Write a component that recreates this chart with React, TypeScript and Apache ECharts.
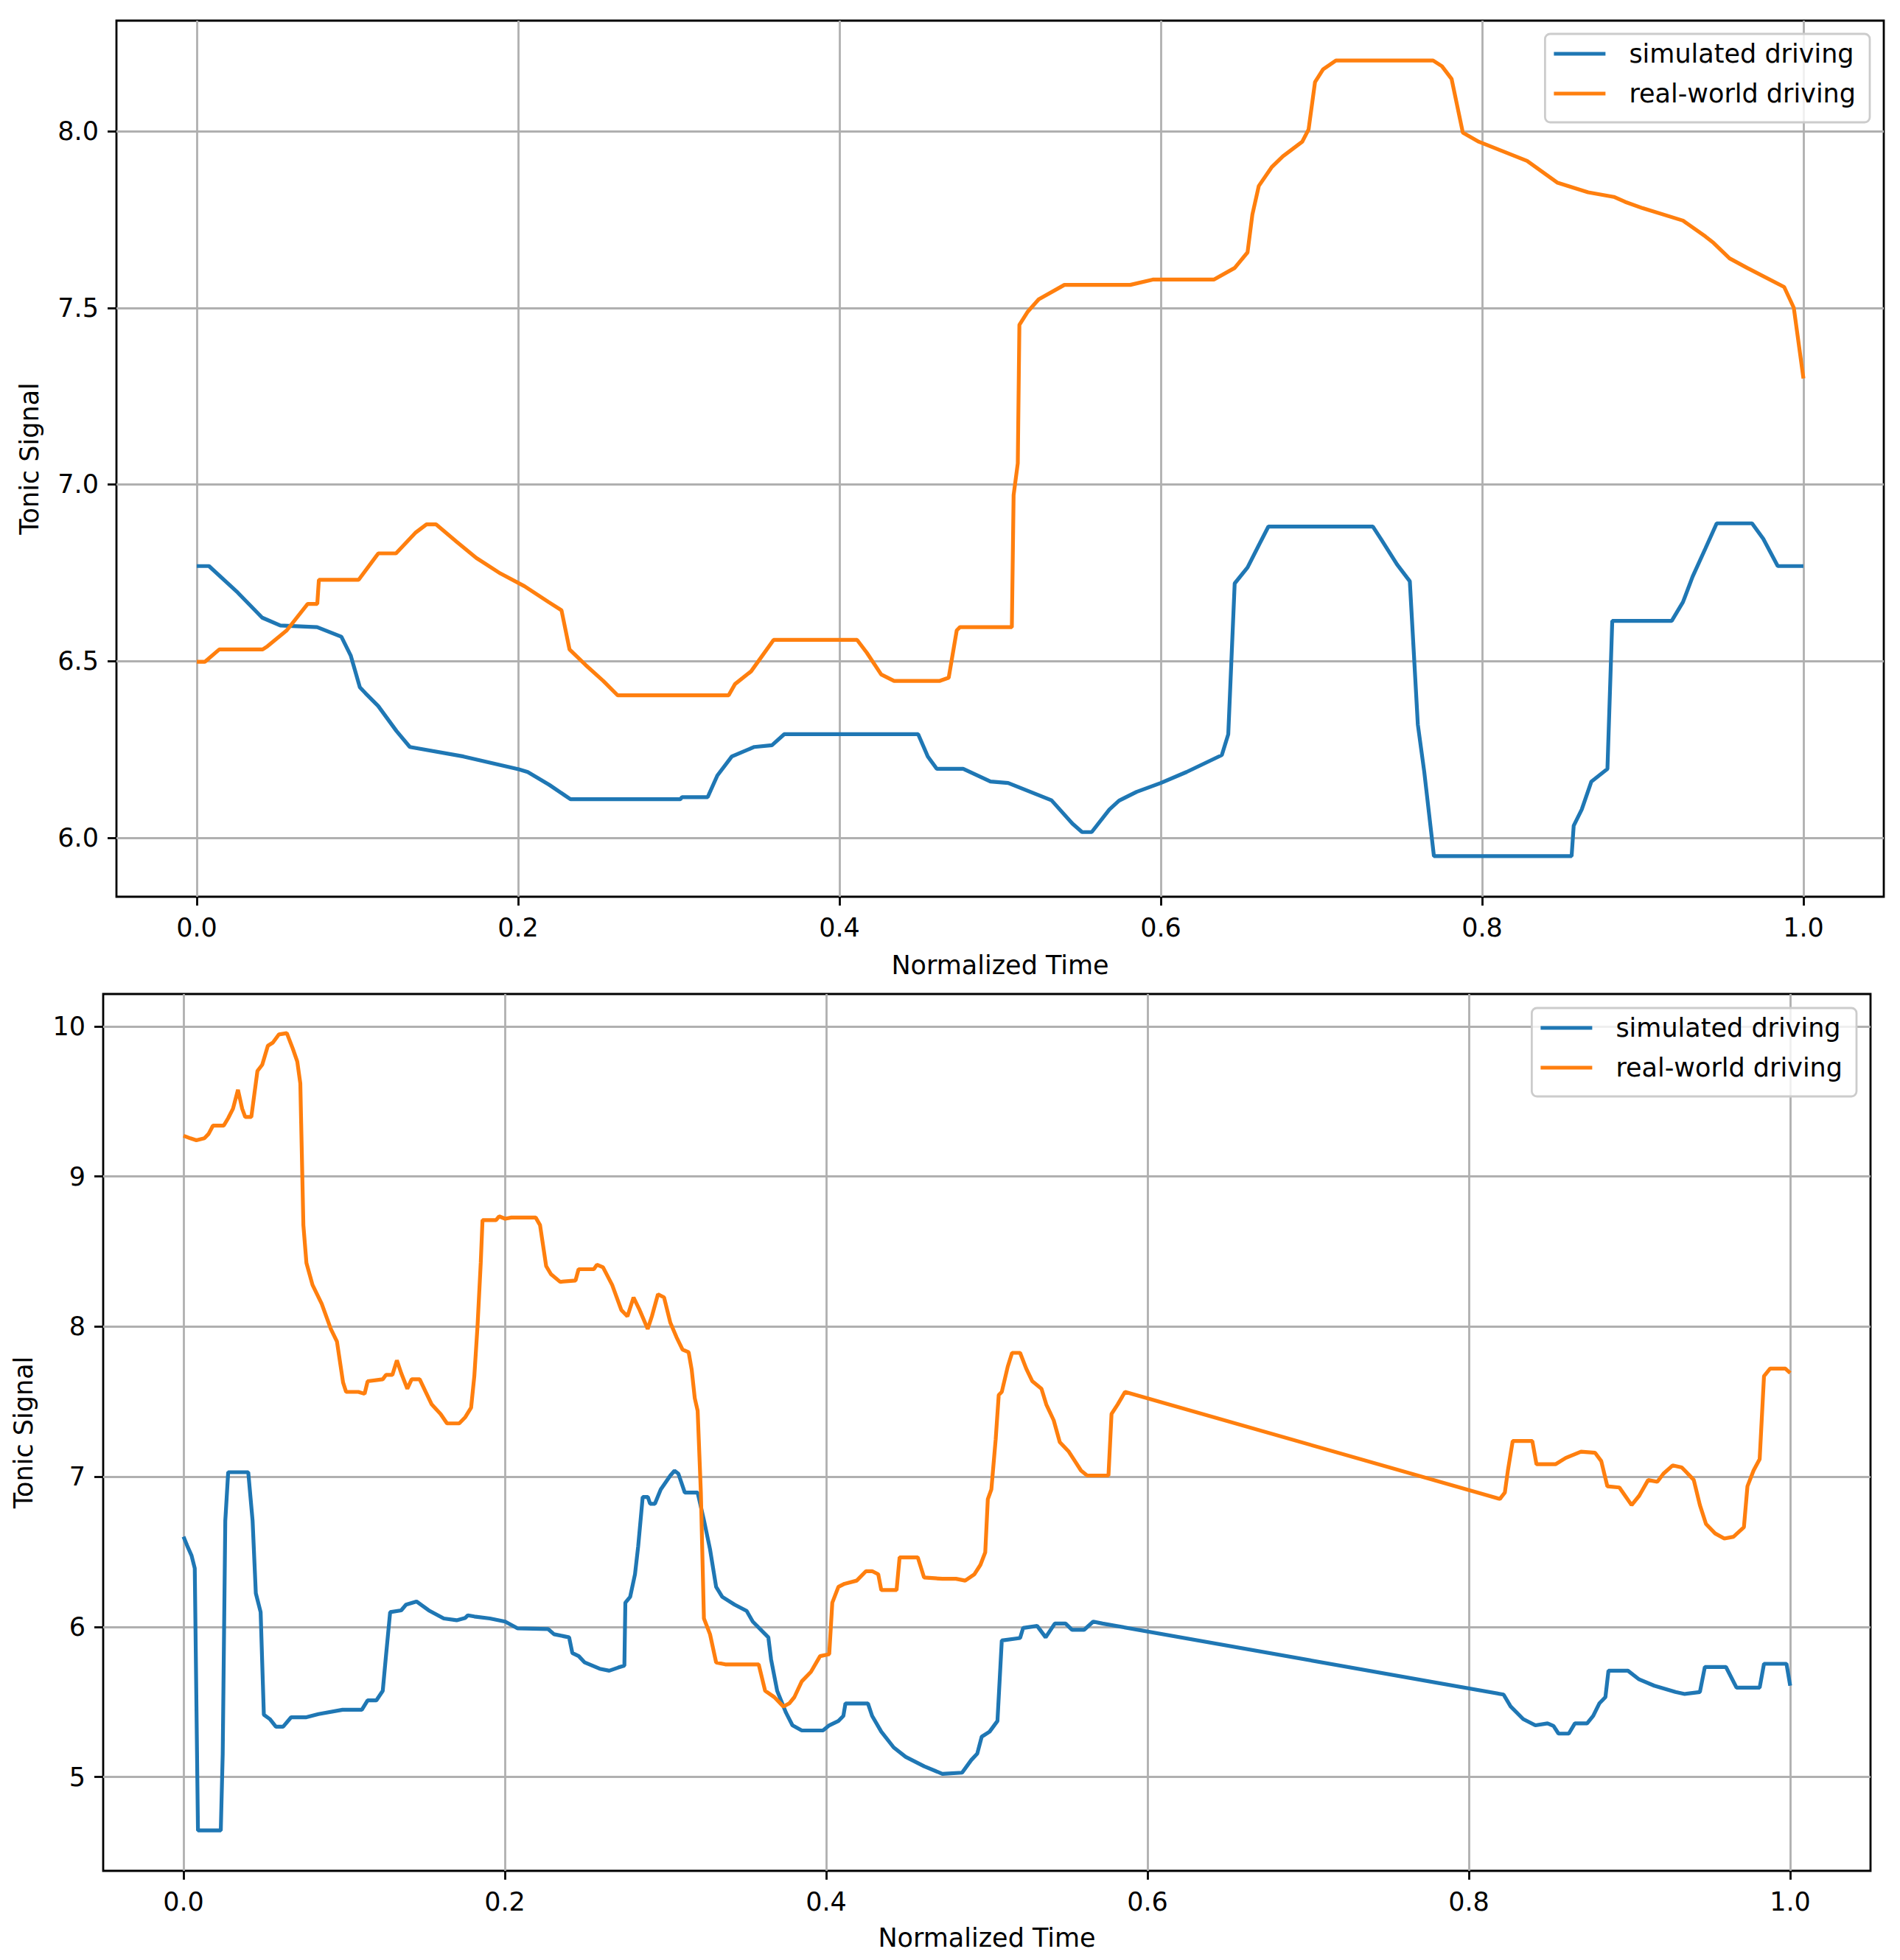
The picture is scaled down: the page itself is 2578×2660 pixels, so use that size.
import React, { FC, useEffect, useRef } from "react";
import * as echarts from "echarts";

// tick positions
const timeTicks = [0, 0.2, 0.4, 0.6, 0.8, 1.0];
const topSignalTicks = [6.0, 6.5, 7.0, 7.5, 8.0];
const bottomSignalTicks = [5, 6, 7, 8, 9, 10];

const seriesNames = ["simulated driving", "real-world driving"];

// upper panel: [normalized time, tonic signal]
const topSimulated = [
  [0, 6.769], [0.0076, 6.769], [0.0255, 6.694], [0.0407, 6.623], [0.052, 6.601],
  [0.0749, 6.596], [0.09, 6.569], [0.0958, 6.516], [0.1015, 6.426], [0.105, 6.409],
  [0.1129, 6.373], [0.1243, 6.302], [0.1326, 6.257], [0.166, 6.23], [0.2003, 6.194],
  [0.206, 6.186], [0.2193, 6.15], [0.2326, 6.109], [0.301, 6.109], [0.302, 6.115],
  [0.318, 6.115], [0.324, 6.176], [0.333, 6.23], [0.347, 6.257], [0.358, 6.262],
  [0.3656, 6.293], [0.449, 6.293], [0.455, 6.23], [0.4606, 6.195], [0.477, 6.195],
  [0.494, 6.159], [0.505, 6.155], [0.532, 6.106], [0.545, 6.04], [0.551, 6.016],
  [0.557, 6.016], [0.568, 6.08], [0.574, 6.105], [0.585, 6.13], [0.6, 6.155],
  [0.616, 6.186], [0.638, 6.234], [0.642, 6.293], [0.646, 6.72], [0.654, 6.765],
  [0.661, 6.828], [0.667, 6.881], [0.732, 6.881], [0.737, 6.846], [0.747, 6.774],
  [0.755, 6.726], [0.76, 6.32], [0.764, 6.186], [0.77, 5.948], [0.8557, 5.948],
  [0.857, 6.034], [0.862, 6.08], [0.868, 6.159], [0.878, 6.195], [0.881, 6.614],
  [0.918, 6.614], [0.925, 6.667], [0.931, 6.739], [0.939, 6.819], [0.946, 6.89],
  [0.968, 6.89], [0.975, 6.846], [0.984, 6.769], [1.0, 6.769],
];

const topRealWorld = [
  [0, 6.498], [0.005, 6.498], [0.014, 6.533], [0.041, 6.533], [0.044, 6.542],
  [0.056, 6.587], [0.069, 6.662], [0.075, 6.662], [0.076, 6.73], [0.1007, 6.73],
  [0.113, 6.805], [0.124, 6.805], [0.136, 6.863], [0.143, 6.887], [0.149, 6.887],
  [0.162, 6.837], [0.174, 6.792], [0.189, 6.748], [0.204, 6.712], [0.219, 6.667],
  [0.227, 6.644], [0.232, 6.533], [0.242, 6.489], [0.253, 6.444], [0.262, 6.403],
  [0.331, 6.403], [0.335, 6.435], [0.345, 6.471], [0.359, 6.56], [0.411, 6.56],
  [0.417, 6.524], [0.426, 6.462], [0.434, 6.444], [0.4625, 6.444], [0.468, 6.453],
  [0.473, 6.587], [0.475, 6.596], [0.5073, 6.596], [0.5084, 6.97], [0.511, 7.06],
  [0.512, 7.452], [0.517, 7.488], [0.524, 7.524], [0.54, 7.565], [0.581, 7.565],
  [0.595, 7.58], [0.633, 7.58], [0.646, 7.613], [0.654, 7.657], [0.657, 7.764],
  [0.661, 7.845], [0.669, 7.898], [0.676, 7.929], [0.688, 7.97], [0.692, 8.005],
  [0.696, 8.139], [0.701, 8.175], [0.709, 8.2], [0.7695, 8.2], [0.775, 8.184],
  [0.781, 8.148], [0.788, 7.996], [0.798, 7.97], [0.813, 7.943], [0.828, 7.916],
  [0.847, 7.854], [0.866, 7.827], [0.882, 7.814], [0.889, 7.8], [0.9, 7.782],
  [0.925, 7.747], [0.939, 7.702], [0.944, 7.684], [0.954, 7.64], [0.965, 7.613],
  [0.988, 7.559], [0.994, 7.5], [1.0, 7.3],
];

// lower panel
const bottomSimulated = [
  [0, 6.601], [0.0023, 6.54], [0.005, 6.475], [0.007, 6.39], [0.009, 4.644],
  [0.0232, 4.644], [0.0244, 5.155], [0.026, 6.706], [0.0278, 7.03], [0.0403, 7.03],
  [0.043, 6.706], [0.045, 6.224], [0.048, 6.098], [0.05, 5.415], [0.0537, 5.386],
  [0.0575, 5.335], [0.062, 5.335], [0.067, 5.398], [0.0765, 5.398], [0.084, 5.419],
  [0.099, 5.448], [0.111, 5.448], [0.1146, 5.51], [0.12, 5.51], [0.124, 5.574],
  [0.126, 5.805], [0.1286, 6.098], [0.1355, 6.11], [0.1385, 6.148], [0.145, 6.169],
  [0.1526, 6.11], [0.162, 6.056], [0.17, 6.044], [0.1754, 6.06], [0.177, 6.077],
  [0.181, 6.069], [0.1907, 6.056], [0.2002, 6.035], [0.208, 5.99], [0.227, 5.985],
  [0.2306, 5.951], [0.24, 5.93], [0.242, 5.826], [0.246, 5.805], [0.2497, 5.763],
  [0.259, 5.721], [0.265, 5.708], [0.2706, 5.729], [0.2744, 5.742], [0.275, 6.161],
  [0.278, 6.2], [0.281, 6.35], [0.283, 6.538], [0.2858, 6.865], [0.289, 6.865],
  [0.2904, 6.82], [0.2934, 6.82], [0.297, 6.915], [0.303, 7.008], [0.3056, 7.04],
  [0.308, 7.02], [0.312, 6.894], [0.32, 6.894], [0.324, 6.706], [0.3277, 6.517],
  [0.3315, 6.266], [0.3353, 6.2], [0.343, 6.148], [0.3505, 6.106], [0.3543, 6.035],
  [0.364, 5.93], [0.3657, 5.784], [0.3695, 5.574], [0.375, 5.428], [0.379, 5.344],
  [0.3848, 5.31], [0.398, 5.31], [0.4019, 5.344], [0.4076, 5.373], [0.4107, 5.407],
  [0.412, 5.49], [0.426, 5.49], [0.4286, 5.407], [0.4343, 5.302], [0.442, 5.197],
  [0.4495, 5.134], [0.461, 5.071], [0.4723, 5.021], [0.4846, 5.029], [0.4903, 5.113],
  [0.494, 5.155], [0.4968, 5.268], [0.5017, 5.302], [0.5066, 5.373], [0.5093, 5.909],
  [0.5207, 5.926], [0.5226, 5.993], [0.5313, 6.006], [0.5366, 5.93], [0.5423, 6.022],
  [0.549, 6.022], [0.553, 5.98], [0.5605, 5.98], [0.5662, 6.035], [0.572, 6.022],
  [0.8216, 5.549], [0.826, 5.47], [0.8338, 5.386], [0.8414, 5.344], [0.849, 5.357],
  [0.8527, 5.34], [0.8558, 5.289], [0.8622, 5.289], [0.866, 5.357], [0.8736, 5.357],
  [0.8774, 5.407], [0.8812, 5.49], [0.885, 5.532], [0.8869, 5.708], [0.899, 5.708],
  [0.906, 5.65], [0.9154, 5.608], [0.9286, 5.566], [0.9343, 5.553], [0.9438, 5.566],
  [0.9469, 5.733], [0.96, 5.733], [0.9666, 5.595], [0.981, 5.595], [0.9837, 5.754],
  [0.9977, 5.754], [1.0, 5.608],
];

const bottomRealWorld = [
  [0, 9.271], [0.0042, 9.254], [0.008, 9.241], [0.013, 9.254], [0.0156, 9.283],
  [0.0183, 9.338], [0.025, 9.338], [0.0278, 9.388], [0.0308, 9.451], [0.0339, 9.577],
  [0.0365, 9.451], [0.0384, 9.396], [0.0422, 9.396], [0.046, 9.702], [0.049, 9.744],
  [0.0525, 9.87], [0.0556, 9.891], [0.0594, 9.946], [0.0643, 9.954], [0.0681, 9.849],
  [0.0708, 9.765], [0.0727, 9.619], [0.0746, 8.676], [0.0765, 8.424], [0.0803, 8.277],
  [0.086, 8.152], [0.0917, 7.984], [0.0955, 7.9], [0.0993, 7.628], [0.1012, 7.565],
  [0.1088, 7.565], [0.1127, 7.552], [0.1146, 7.636], [0.124, 7.649], [0.126, 7.678],
  [0.13, 7.678], [0.1328, 7.775], [0.1355, 7.69], [0.1393, 7.586], [0.142, 7.649],
  [0.147, 7.649], [0.1507, 7.565], [0.1545, 7.481], [0.16, 7.418], [0.164, 7.355],
  [0.1716, 7.355], [0.1754, 7.397], [0.179, 7.46], [0.181, 7.67], [0.183, 8.005],
  [0.185, 8.424], [0.1861, 8.709], [0.1945, 8.709], [0.1964, 8.734], [0.2002, 8.718],
  [0.204, 8.726], [0.2192, 8.726], [0.2219, 8.676], [0.2257, 8.403], [0.2287, 8.349],
  [0.2344, 8.298], [0.244, 8.307], [0.2459, 8.382], [0.2554, 8.382], [0.2573, 8.412],
  [0.2611, 8.395], [0.2668, 8.277], [0.2725, 8.11], [0.2763, 8.068], [0.2801, 8.194],
  [0.2839, 8.11], [0.2889, 7.984], [0.2915, 8.068], [0.2953, 8.215], [0.2991, 8.194],
  [0.303, 8.026], [0.3068, 7.93], [0.3106, 7.846], [0.3144, 7.829], [0.3163, 7.712],
  [0.3182, 7.523], [0.32, 7.439], [0.322, 6.894], [0.3239, 6.056], [0.3277, 5.951],
  [0.3315, 5.763], [0.3372, 5.75], [0.358, 5.75], [0.362, 5.574], [0.3677, 5.532],
  [0.3734, 5.469], [0.377, 5.49], [0.3802, 5.532], [0.3848, 5.637], [0.3905, 5.7],
  [0.3962, 5.805], [0.4019, 5.818], [0.4038, 6.161], [0.4076, 6.266], [0.4114, 6.287],
  [0.419, 6.308], [0.4248, 6.371], [0.4286, 6.371], [0.4324, 6.35], [0.4343, 6.245],
  [0.4438, 6.245], [0.4457, 6.463], [0.457, 6.463], [0.4609, 6.329], [0.4723, 6.32],
  [0.4808, 6.32], [0.4865, 6.308], [0.4922, 6.35], [0.496, 6.413], [0.499, 6.496],
  [0.5006, 6.85], [0.5028, 6.915], [0.5055, 7.25], [0.5074, 7.544], [0.5093, 7.565],
  [0.513, 7.733], [0.5157, 7.825], [0.5207, 7.825], [0.5245, 7.72], [0.5283, 7.636],
  [0.534, 7.586], [0.537, 7.481], [0.5416, 7.376], [0.5454, 7.23], [0.551, 7.167],
  [0.5548, 7.104], [0.5586, 7.041], [0.5624, 7.008], [0.5757, 7.008], [0.5776, 7.418],
  [0.5814, 7.481], [0.586, 7.565], [0.8193, 6.852], [0.8224, 6.894], [0.8243, 7.041],
  [0.8273, 7.238], [0.8395, 7.238], [0.8421, 7.083], [0.8539, 7.083], [0.8603, 7.125],
  [0.8698, 7.167], [0.8786, 7.159], [0.8824, 7.104], [0.8862, 6.936], [0.8937, 6.928],
  [0.9013, 6.811], [0.906, 6.873], [0.9116, 6.978], [0.9173, 6.966], [0.9211, 7.02],
  [0.9268, 7.075], [0.9325, 7.062], [0.9381, 7.0], [0.94, 6.978], [0.9438, 6.811],
  [0.9476, 6.685], [0.9533, 6.622], [0.959, 6.588], [0.9647, 6.6], [0.9712, 6.664],
  [0.9734, 6.936], [0.9772, 7.041], [0.981, 7.117], [0.9837, 7.67], [0.9875, 7.72],
  [0.997, 7.72], [1.0, 7.691],
];

const FONT = "DejaVu Sans";
const BLUE = "#1f77b4";
const ORANGE = "#ff7f0e";

const timeAxis = (gridIndex: number, nameGap: number) => ({
  type: "value",
  gridIndex,
  min: -0.05,
  max: 1.05,
  name: "Normalized Time",
  nameLocation: "middle",
  nameGap,
  nameTextStyle: { fontSize: 35, color: "#000", fontFamily: FONT },
  axisLine: { show: false, onZero: false },
  axisTick: {
    show: true,
    length: 12,
    customValues: timeTicks,
    lineStyle: { color: "#000", width: 2.8 },
  },
  axisLabel: {
    customValues: timeTicks,
    margin: 24,
    fontSize: 35,
    color: "#000",
    fontFamily: FONT,
    formatter: (v: number) => v.toFixed(1),
  },
  splitLine: { show: true, lineStyle: { color: "#b0b0b0", width: 2.8 } },
});

const signalAxis = (
  gridIndex: number,
  min: number,
  max: number,
  ticks: number[],
  digits: number,
  nameGap: number
) => ({
  type: "value",
  gridIndex,
  min,
  max,
  name: "Tonic Signal",
  nameLocation: "middle",
  nameGap,
  nameTextStyle: { fontSize: 35, color: "#000", fontFamily: FONT },
  axisLine: { show: false, onZero: false },
  axisTick: {
    show: true,
    length: 12,
    customValues: ticks,
    lineStyle: { color: "#000", width: 2.8 },
  },
  axisLabel: {
    customValues: ticks,
    margin: 24,
    fontSize: 35,
    color: "#000",
    fontFamily: FONT,
    formatter: (v: number) => v.toFixed(digits),
  },
  splitLine: { show: true, lineStyle: { color: "#b0b0b0", width: 2.8 } },
});

const legendAt = (right: number, top: number) => ({
  orient: "vertical",
  right,
  top,
  data: seriesNames,
  selectedMode: false,
  icon: "rect",
  itemWidth: 70,
  itemHeight: 5,
  itemGap: 14,
  padding: [7, 19, 19, 12],
  backgroundColor: "rgba(255,255,255,0.8)",
  borderColor: "#cccccc",
  borderWidth: 2.8,
  borderRadius: 7,
  textStyle: {
    fontSize: 35,
    lineHeight: 40,
    color: "#000",
    fontFamily: FONT,
    padding: [0, 0, 0, 27],
  },
});

const line = (name: string, color: string, data: number[][], idx: number) => ({
  name,
  type: "line",
  xAxisIndex: idx,
  yAxisIndex: idx,
  data,
  showSymbol: false,
  symbol: "none",
  lineStyle: { width: 5.2, color },
  itemStyle: { color },
});

const App: FC = () => {
  const ref = useRef<HTMLDivElement>(null);
  useEffect(() => {
    const chart: any = echarts.init(ref.current, null, { renderer: "svg" });
    chart.setOption({
      animation: false,
      backgroundColor: "#fff",
      textStyle: { fontFamily: FONT },
      grid: [
        {
          left: 158,
          top: 28,
          width: 2398,
          height: 1189,
          show: true,
          borderColor: "#000",
          borderWidth: 2.8,
          backgroundColor: "transparent",
        },
        {
          left: 140,
          top: 1349,
          width: 2398,
          height: 1190,
          show: true,
          borderColor: "#000",
          borderWidth: 2.8,
          backgroundColor: "transparent",
        },
      ],
      xAxis: [timeAxis(0, 75), timeAxis(1, 73)],
      yAxis: [
        signalAxis(0, 5.833, 8.313, topSignalTicks, 1, 101),
        signalAxis(1, 4.375, 10.215, bottomSignalTicks, 0, 91),
      ],
      legend: [legendAt(41, 46), legendAt(59, 1368)],
      series: [
        line(seriesNames[0], BLUE, topSimulated, 0),
        line(seriesNames[1], ORANGE, topRealWorld, 0),
        line(seriesNames[0], BLUE, bottomSimulated, 1),
        line(seriesNames[1], ORANGE, bottomRealWorld, 1),
      ],
    });
    return () => {
      chart.dispose && chart.dispose();
    };
  }, []);

  return (
    <div
      ref={ref}
      style={{ position: "absolute", left: 0, top: 0, width: 2578, height: 2660, background: "#fff" }}
    ></div>
  );
};

export default App;
